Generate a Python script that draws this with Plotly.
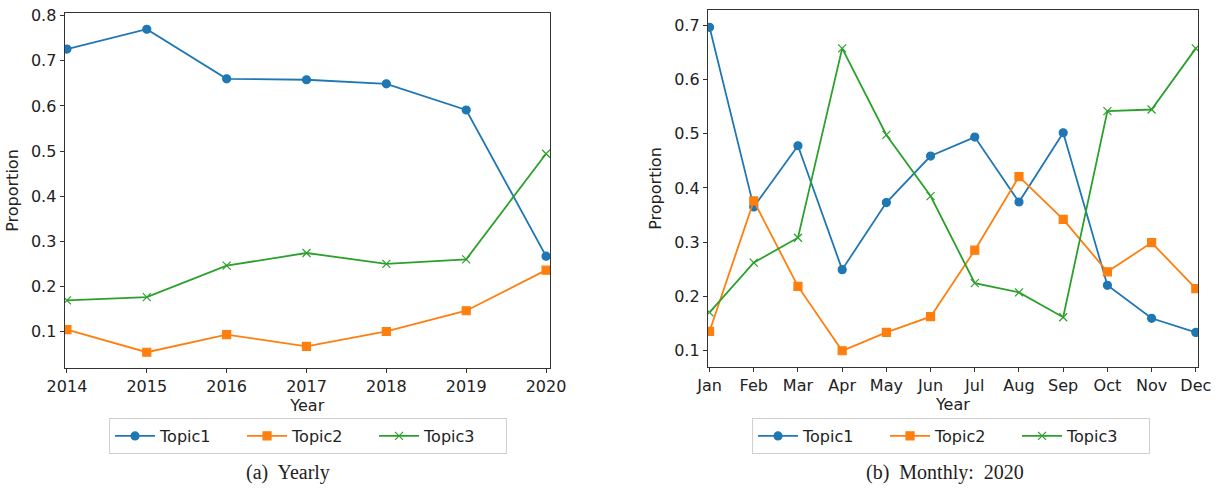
import plotly.graph_objects as go

years = [2014, 2015, 2016, 2017, 2018, 2019, 2020]
yearly_topic1 = [0.726, 0.770, 0.660, 0.658, 0.649, 0.591, 0.267]
yearly_topic2 = [0.104, 0.054, 0.093, 0.067, 0.100, 0.146, 0.236]
yearly_topic3 = [0.169, 0.176, 0.246, 0.274, 0.250, 0.260, 0.494]

months = ["Jan", "Feb", "Mar", "Apr", "May", "Jun", "Jul", "Aug", "Sep", "Oct", "Nov", "Dec"]
monthly_topic1 = [0.697, 0.365, 0.478, 0.249, 0.373, 0.459, 0.494, 0.374, 0.502, 0.220, 0.159, 0.133]
monthly_topic2 = [0.135, 0.376, 0.218, 0.099, 0.133, 0.162, 0.285, 0.421, 0.342, 0.245, 0.299, 0.214]
monthly_topic3 = [0.170, 0.262, 0.308, 0.658, 0.498, 0.385, 0.224, 0.207, 0.161, 0.542, 0.545, 0.658]

names = ["Topic1", "Topic2", "Topic3"]
colors = ["#1f77b4", "#ff7f0e", "#2ca02c"]
symbols = ["circle", "square", "x-thin"]
sizes = [8, 8, 8]

fig = go.Figure()

for i, (name, ys) in enumerate(zip(names, [yearly_topic1, yearly_topic2, yearly_topic3])):
    fig.add_trace(go.Scatter(
        x=years, y=ys, name=name, mode="lines+markers",
        line=dict(color=colors[i], width=1.8),
        marker=dict(symbol=symbols[i], size=sizes[i], color=colors[i],
                    line=dict(color=colors[i], width=1.2)),
        xaxis="x", yaxis="y", legend="legend",
    ))

x_idx = list(range(len(months)))
for i, (name, ys) in enumerate(zip(names, [monthly_topic1, monthly_topic2, monthly_topic3])):
    fig.add_trace(go.Scatter(
        x=x_idx, y=ys, name=name, mode="lines+markers",
        line=dict(color=colors[i], width=1.8),
        marker=dict(symbol=symbols[i], size=sizes[i], color=colors[i],
                    line=dict(color=colors[i], width=1.2)),
        xaxis="x2", yaxis="y2", legend="legend2",
    ))

tickfont = dict(family="DejaVu Sans", size=16, color="#222")
titlefont = dict(family="DejaVu Sans", size=16, color="#222")
axis_common = dict(showline=True, mirror=True, linecolor="#333", linewidth=1,
                   ticks="outside", ticklen=4, tickcolor="#333", showgrid=False,
                   zeroline=False, tickfont=tickfont, automargin=False)

legend_common = dict(orientation="h", yanchor="top", xanchor="center",
                     bordercolor="#d0d0d0", borderwidth=1, bgcolor="white",
                     font=dict(family="DejaVu Sans", size=16, color="#222"),
                     entrywidth=77, itemwidth=40)

fig.update_layout(
    width=1218, height=489,
    margin=dict(l=0, r=0, t=0, b=0),
    paper_bgcolor="white", plot_bgcolor="white",
    xaxis=dict(domain=[0.053, 0.4516], anchor="y", range=[2013.97, 2020.05],
               tickmode="array", tickvals=years, ticktext=[str(y) for y in years],
               title=dict(text="Year", font=titlefont, standoff=2),
               **axis_common),
    yaxis=dict(domain=[0.2474, 0.9734], anchor="x", range=[0.019, 0.806],
               tickvals=[0.1, 0.2, 0.3, 0.4, 0.5, 0.6, 0.7, 0.8], tickformat=".1f",
               title=dict(text="Proportion", font=titlefont, standoff=8),
               **axis_common),
    xaxis2=dict(domain=[0.5811, 0.9836], anchor="y2", range=[-0.04, 11.05],
                tickmode="array", tickvals=x_idx, ticktext=months,
                title=dict(text="Year", font=titlefont, standoff=2),
                **axis_common),
    yaxis2=dict(domain=[0.2495, 0.9796], anchor="x2", range=[0.069, 0.729],
                tickvals=[0.1, 0.2, 0.3, 0.4, 0.5, 0.6, 0.7], tickformat=".1f",
                title=dict(text="Proportion", font=titlefont, standoff=8),
                **axis_common),
    legend=dict(x=0.2529, y=0.1452, **legend_common),
    legend2=dict(x=0.7808, y=0.1452, **legend_common),
    annotations=[
        dict(text="(a)  Yearly", x=288/1218, y=1-472/489, xref="paper", yref="paper",
             showarrow=False, xanchor="center", yanchor="middle",
             font=dict(family="Liberation Serif", size=20, color="#222")),
        dict(text="(b)  Monthly:  2020", x=945/1218, y=1-472/489, xref="paper", yref="paper",
             showarrow=False, xanchor="center", yanchor="middle",
             font=dict(family="Liberation Serif", size=20, color="#222")),
    ],
)

fig.write_html("out.html", config={"displayModeBar": False},
               post_script="document.body.style.margin='0';document.body.style.overflow='hidden';")
